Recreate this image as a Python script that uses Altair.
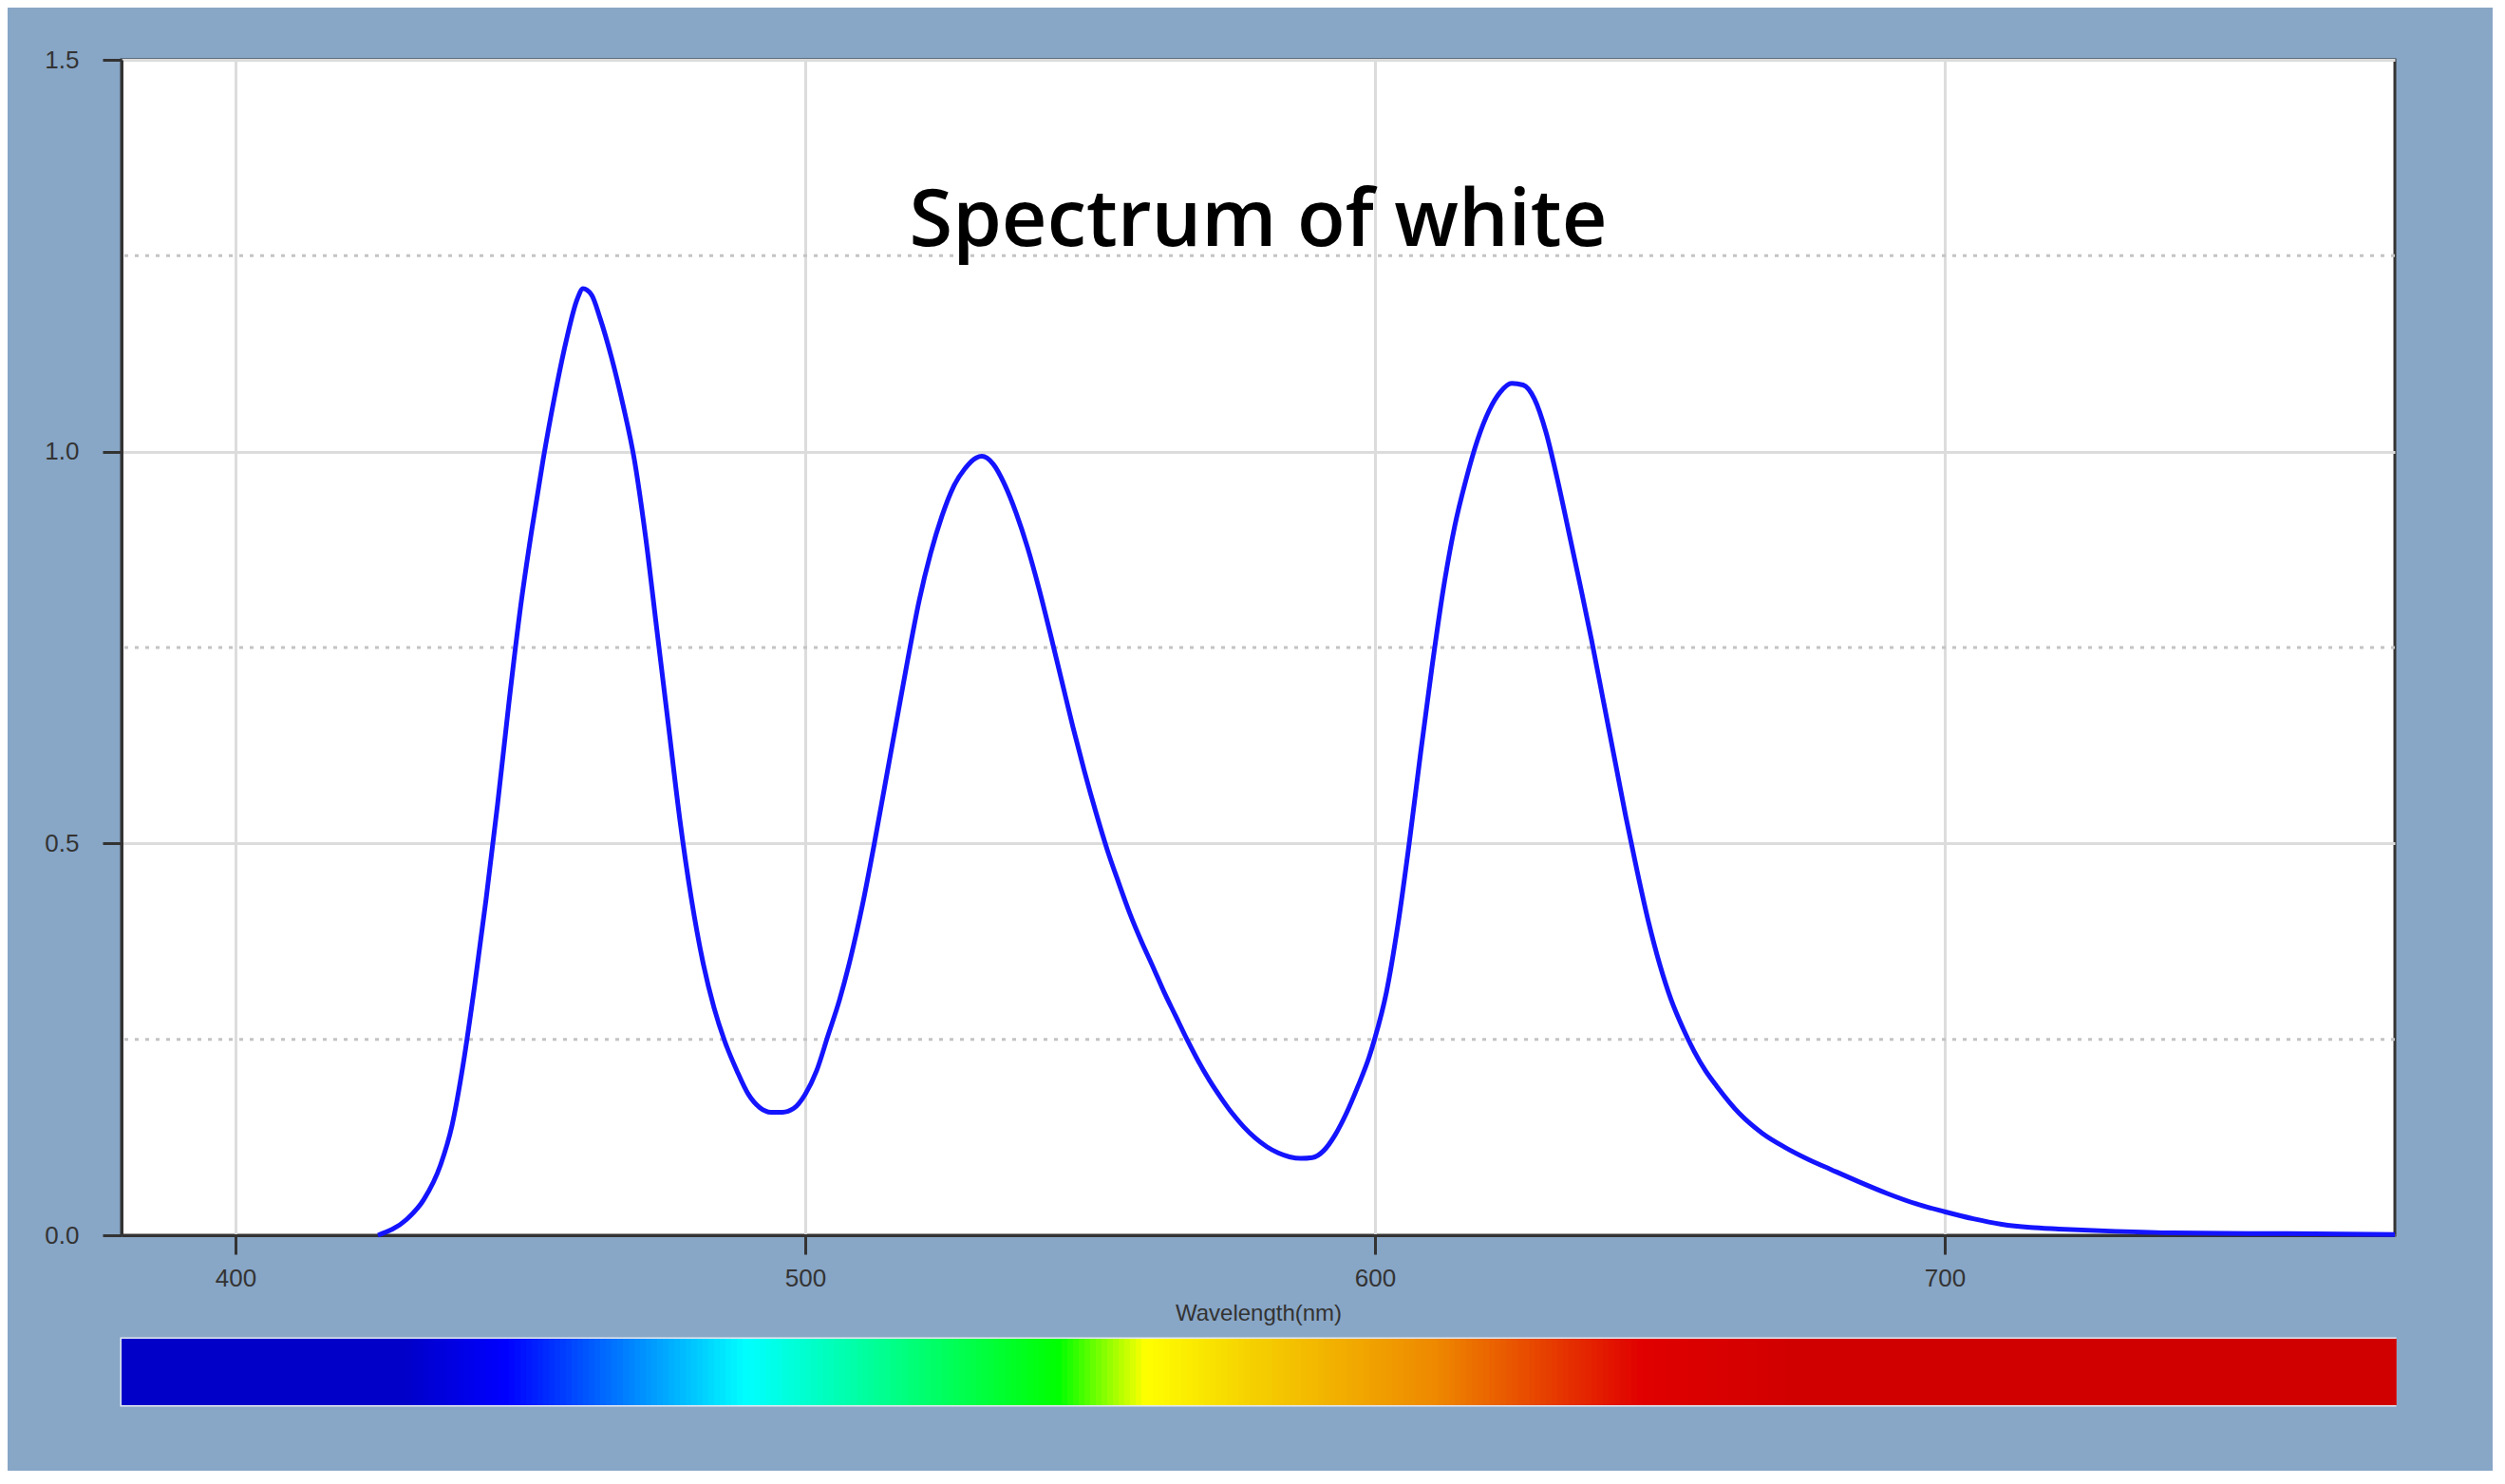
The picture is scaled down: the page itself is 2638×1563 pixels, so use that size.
import altair as alt
import pandas as pd

# ---- data ----
wavelength = [425, 430, 433, 436, 438, 440, 442, 444, 446, 448, 450, 452, 454, 456, 458, 460,
              461, 462.5, 464, 466, 468, 470, 472, 474, 476, 478, 480, 482, 484, 486, 488, 490,
              492, 494, 496, 498, 500, 502, 504, 506, 508, 510, 512, 514, 516, 518, 520, 522,
              524, 526, 528, 530, 531, 533, 535, 537, 539, 541, 543, 545, 547, 549, 551, 553,
              555, 557, 559, 561, 563, 565, 567, 569, 571, 573, 575, 577, 579, 581, 583, 585,
              587, 589, 591, 593, 595, 597, 599, 600, 602, 604, 606, 608, 610, 612, 614, 616,
              618, 620, 622, 624, 626, 628, 630, 632, 634, 636, 638, 640, 642, 644, 646, 648,
              650, 652, 654, 656, 658, 660, 664, 668, 672, 676, 680, 685, 690, 695, 700, 705,
              710, 715, 720, 730, 740, 760, 779]
intensity = [0.0, 0.02, 0.045, 0.09, 0.14, 0.22, 0.32, 0.43, 0.55, 0.68, 0.80, 0.90, 0.99, 1.07,
             1.14, 1.195, 1.208, 1.2, 1.17, 1.12, 1.06, 0.99, 0.89, 0.77, 0.65, 0.53, 0.43,
             0.35, 0.29, 0.245, 0.21, 0.18, 0.163, 0.157, 0.157, 0.162, 0.18, 0.21, 0.255,
             0.30, 0.355, 0.42, 0.495, 0.575, 0.655, 0.735, 0.81, 0.87, 0.918, 0.955, 0.978,
             0.992, 0.994, 0.984, 0.958, 0.922, 0.878, 0.826, 0.768, 0.708, 0.648, 0.592, 0.54,
             0.492, 0.45, 0.41, 0.375, 0.343, 0.31, 0.28, 0.25, 0.222, 0.197, 0.175, 0.155,
             0.138, 0.124, 0.113, 0.105, 0.1, 0.098, 0.099, 0.108, 0.128, 0.156, 0.19, 0.228,
             0.252, 0.31, 0.395, 0.5, 0.615, 0.725, 0.825, 0.905, 0.965, 1.015, 1.052, 1.076,
             1.087, 1.085, 1.067, 1.025, 0.965, 0.898, 0.83, 0.76, 0.685, 0.61, 0.535, 0.465,
             0.40, 0.345, 0.30, 0.265, 0.235, 0.21, 0.19, 0.155, 0.13, 0.112, 0.097, 0.084,
             0.068, 0.053, 0.04, 0.03, 0.021, 0.014, 0.01, 0.008, 0.005, 0.003, 0.002, 0.001]

x_ticks = [400, 500, 600, 700]
y_ticks = [0.0, 0.5, 1.0, 1.5]
y_minor = [0.25, 0.75, 1.25]
x_domain = [380, 779]
y_domain = [0, 1.5]

bar_stop_nm = [380, 429.7, 447.5, 489.7, 544.5, 559.7, 578.7, 610.8, 646.8, 675, 779]
bar_stop_color = ["#0000c8", "#0000c8", "#0000ff", "#00ffff", "#00ff00", "#ffff00",
                  "#f5d000", "#ee8800", "#e00000", "#d00000", "#d00000"]

title_text = "Spectrum of white"
x_title = "Wavelength(nm)"
title_pos = [579.5, 1.262]

# ---- tables ----
spec = pd.DataFrame({"wl": wavelength, "val": intensity})
minor = pd.DataFrame({"y": y_minor})
bar = pd.DataFrame({"nm": list(range(x_domain[0], x_domain[1]))})
bar["nm2"] = bar["nm"] + 1.3
bar["c"] = bar["nm"] + 0.5
ttl = pd.DataFrame({"x": [title_pos[0]], "y": [title_pos[1]], "t": [title_text]})

W, H = 2394, 1238
xs = alt.Scale(domain=x_domain, nice=False, zero=False)
ys = alt.Scale(domain=y_domain, nice=False)

x_axis = alt.Axis(values=x_ticks, title=x_title, grid=True, gridColor="#dcdcdc", gridWidth=3,
                  labelPadding=12, titlePadding=12, titleFontSize=24, titleFontWeight="normal",
                  titleColor="#333333", titleFont="Liberation Sans")
y_axis = alt.Axis(values=y_ticks, title=None, format=".1f", grid=True, gridColor="#dcdcdc",
                  gridWidth=3, labelPadding=25)

base = alt.Chart(spec)
rules = alt.Chart(minor).mark_rule(color="#c4c4c4", strokeWidth=3, strokeDash=[4, 7]).encode(
    y=alt.Y("y:Q", scale=ys, axis=y_axis)
)
line = base.mark_line(color="#1414ff", strokeWidth=5, interpolate="monotone").encode(
    x=alt.X("wl:Q", scale=xs, axis=x_axis),
    y=alt.Y("val:Q", scale=ys, axis=y_axis),
)
title = alt.Chart(ttl).mark_text(font="Open Sans", fontWeight=600, fontSize=83, color="#000000",
                                 align="center", baseline="alphabetic").encode(
    x=alt.X("x:Q", scale=xs), y=alt.Y("y:Q", scale=ys), text="t:N"
)

top = alt.layer(rules, line, title).properties(
    width=W, height=H,
    view=alt.ViewBackground(fill="white", stroke="#333333", strokeWidth=3),
)

colorbar = alt.Chart(bar).mark_rect().encode(
    x=alt.X("nm:Q", scale=xs, axis=None),
    x2="nm2:Q",
    color=alt.Color("c:Q", scale=alt.Scale(domain=bar_stop_nm, range=bar_stop_color,
                                           interpolate="rgb"), legend=None),
).properties(width=W, height=70,
             view=alt.ViewBackground(stroke="#e4eaf2", strokeWidth=3))

chart = alt.vconcat(top, colorbar, spacing=11).properties(
    padding={"left": 37, "top": 40, "right": 91, "bottom": 67},
    background="#88a6c6",
).configure_axis(
    domainColor="#333333", domainWidth=3, tickColor="#333333", tickWidth=3, tickSize=20,
    labelFont="Liberation Sans", labelFontSize=26, labelColor="#333333",
).configure_concat(spacing=11)

chart.save("out.html", embed_options={"renderer": "svg", "actions": False})
